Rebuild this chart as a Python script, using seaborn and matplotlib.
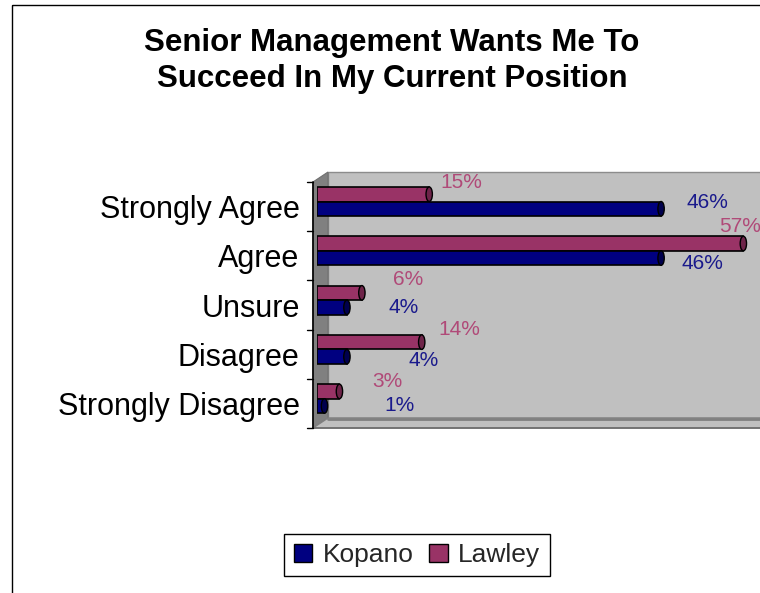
import matplotlib
matplotlib.use("Agg")
import matplotlib.pyplot as plt
import matplotlib.transforms as mtransforms
from matplotlib.patches import Polygon, Rectangle, Ellipse, Patch
from matplotlib.lines import Line2D
import seaborn as sns
import pandas as pd

# Survey responses (percent of respondents)
categories = ["Strongly Agree", "Agree", "Unsure", "Disagree", "Strongly Disagree"]
kopano = [46, 46, 4, 4, 1]
lawley = [15, 57, 6, 14, 3]
series_names = ["Kopano", "Lawley"]
title = "Senior Management Wants Me To\nSucceed In My Current Position"

colors = {"Kopano": "#000080", "Lawley": "#993366"}
cap_colors = {"Kopano": "#00004d", "Lawley": "#6e2449"}
label_colors = {"Kopano": "#1a1a8c", "Lawley": "#b04a78"}

# label nudges (pixels right / down from the bar end)
label_nudge = {
    "Lawley": [(32, -12), (-3, -17), (46, -13), (38, -13), (48, -10)],
    "Kopano": [(46, -6), (41, 5), (57, 0), (77, 4), (75, 0)],
}

W, H = 760, 593
sns.set_theme(style="white")
plt.rcParams["font.family"] = ["Liberation Sans", "DejaVu Sans"]

fig = plt.figure(figsize=(W / 100, H / 100), dpi=100)
fig.patch.set_facecolor("white")

# pixel (top-left origin) -> figure transform for the chart decorations
pix = mtransforms.Affine2D().scale(1 / W, -1 / H).translate(0, 1) + fig.transFigure


def add_poly(pts, fc, ec="none", lw=0, z=-2):
    fig.add_artist(Polygon(pts, closed=True, facecolor=fc, edgecolor=ec,
                           linewidth=lw, transform=pix, zorder=z))


# 3-D style plot area: back wall, side wall and floor
add_poly([(328, 172), (775, 172), (775, 418), (328, 418)], "#c0c0c0", "#8c8c8c", 1.0)
add_poly([(313, 182), (328, 172), (328, 418), (313, 428)], "#808080", "#707070", 0.8)
add_poly([(313, 428), (328, 418), (775, 418), (760, 428)], "#c0c0c0", "#808080", 1.0)
fig.add_artist(Line2D([328, 775], [418.5, 418.5], color="#808080", lw=2,
                      transform=pix, zorder=-1))
fig.add_artist(Line2D([313, 760], [428, 428], color="#6e6e6e", lw=1.2,
                      transform=pix, zorder=-1))

# Bar axes: value 0 at x=317 px, 7.48 px per percent
left_px, right_px, top_px, bot_px = 317, W, 172, 418
ax = fig.add_axes([left_px / W, 1 - bot_px / H, (right_px - left_px) / W,
                   (bot_px - top_px) / H])
ax.set_facecolor("none")

df = pd.DataFrame({
    "category": categories * 2,
    "series": ["Kopano"] * len(categories) + ["Lawley"] * len(categories),
    "value": kopano + lawley,
})

sns.barplot(data=df, y="category", x="value", hue="series",
            hue_order=["Lawley", "Kopano"], order=categories, palette=colors,
            orient="h", width=0.59, edgecolor="black", linewidth=1.2,
            saturation=1, legend=False, ax=ax)

px_per_unit = 7.48
ax.set_xlim(0, (right_px - left_px) / px_per_unit)
cat_px = 49.3
first_center = 201.5
ax.set_ylim((bot_px - first_center) / cat_px, (top_px - first_center) / cat_px)

values = {"Kopano": kopano, "Lawley": lawley}
for name, cont in zip(["Lawley", "Kopano"], ax.containers):
    for i, bar in enumerate(cont.patches):
        x_end = bar.get_x() + bar.get_width()
        yc = bar.get_y() + bar.get_height() / 2
        ax.add_patch(Ellipse((x_end, yc), width=0.85, height=bar.get_height(),
                             facecolor=cap_colors[name], edgecolor="black",
                             linewidth=1.0, zorder=3, clip_on=False))
        dx, dy = label_nudge[name][i]
        ax.annotate(f"{values[name][i]}%", xy=(x_end, yc),
                    xytext=(dx * 0.72, -dy * 0.72), textcoords="offset points",
                    ha="center", va="center", fontsize=15,
                    color=label_colors[name], annotation_clip=False)

# category labels sit on the floor plane, a few pixels below the bars
ax.set_yticks(range(len(categories)))
ax.set_yticklabels(categories, fontsize=22, color="black")
ax.tick_params(axis="y", length=0, pad=12.5)
ax.tick_params(axis="x", length=0, labelbottom=False)
shift = mtransforms.ScaledTranslation(0, -0.05, fig.dpi_scale_trans)
for lab in ax.get_yticklabels():
    lab.set_transform(lab.get_transform() + shift)
ax.set_xlabel("")
ax.set_ylabel("")
for s in ax.spines.values():
    s.set_visible(False)

# front vertical axis with tick marks at category boundaries
ax_top = first_center - 0.5 * cat_px + 5
bounds = [ax_top + k * cat_px for k in range(len(categories) + 1)]
fig.add_artist(Line2D([313, 313], [bounds[0], bounds[-1]], color="black",
                      lw=1.2, transform=pix, zorder=2))
for b in bounds:
    fig.add_artist(Line2D([307, 313], [b, b], color="black", lw=1.0,
                          transform=pix, zorder=2))

# title
fig.text(392 / W, 1 - 61 / H, title, ha="center", va="center",
         fontsize=22.5, fontweight="bold", linespacing=1.25, color="black")

# legend
handles = [Patch(facecolor=colors[n], edgecolor="black", linewidth=1.0)
           for n in series_names]
leg = fig.legend(handles, series_names, loc="center",
                 bbox_to_anchor=(417 / W, 1 - 555 / H), ncol=2, fontsize=19,
                 frameon=True, fancybox=False, edgecolor="black", framealpha=1,
                 handlelength=0.7, handleheight=0.7, handletextpad=0.4,
                 columnspacing=0.6, borderpad=0.35, borderaxespad=0)
leg.get_frame().set_linewidth(1.0)

# chart border
fig.add_artist(Rectangle((12, 5), 800, 700, fill=False, edgecolor="black",
                         linewidth=1.0, transform=pix, zorder=5))

fig.savefig("out.png", dpi=100)
